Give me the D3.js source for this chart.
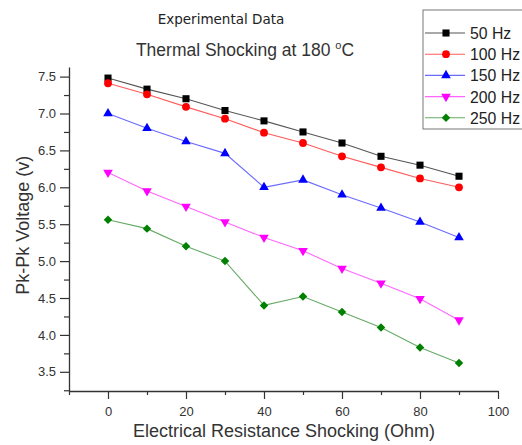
<!DOCTYPE html>
<html>
<head>
<meta charset="utf-8">
<script src="https://cdnjs.cloudflare.com/ajax/libs/d3/7.8.5/d3.min.js"></script>
<style>
  html, body { margin: 0; padding: 0; background: #fff; }
  svg { display: block; }
</style>
</head>
<body>
<script>
// x values (Ohm)
const resistance = [0, 10, 20, 30, 40, 50, 60, 70, 80, 90];

// Pk-Pk voltage per frequency
const hz50  = [7.48, 7.33, 7.20, 7.04, 6.90, 6.75, 6.60, 6.42, 6.30, 6.15];
const hz100 = [7.41, 7.26, 7.09, 6.93, 6.74, 6.60, 6.42, 6.27, 6.12, 6.00];
const hz150 = [7.00, 6.80, 6.62, 6.46, 6.00, 6.10, 5.90, 5.72, 5.53, 5.32];
const hz200 = [6.20, 5.95, 5.74, 5.53, 5.32, 5.14, 4.90, 4.70, 4.49, 4.20];
const hz250 = [5.56, 5.44, 5.20, 5.00, 4.40, 4.52, 4.31, 4.10, 3.83, 3.62];

const seriesNames = ['50 Hz', '100 Hz', '150 Hz', '200 Hz', '250 Hz'];
const xTicks = [0, 20, 40, 60, 80, 100];
const xMinorTicks = [-10, 10, 30, 50, 70, 90];
const yTicks = [3.5, 4.0, 4.5, 5.0, 5.5, 6.0, 6.5, 7.0, 7.5];
const yMinorTicks = [3.25, 3.75, 4.25, 4.75, 5.25, 5.75, 6.25, 6.75, 7.25];

const series = [
  { name: seriesNames[0], values: hz50,  line: '#555555', fill: '#000000', shape: d3.symbolSquare,   size: 50, rot: 0 },
  { name: seriesNames[1], values: hz100, line: '#ff5a5a', fill: '#ff0000', shape: d3.symbolCircle,   size: 48, rot: 0 },
  { name: seriesNames[2], values: hz150, line: '#6a6aff', fill: '#0000ff', shape: d3.symbolTriangle, size: 40, rot: 0 },
  { name: seriesNames[3], values: hz200, line: '#ff66ff', fill: '#ff00ff', shape: d3.symbolTriangle, size: 40, rot: 180 },
  { name: seriesNames[4], values: hz250, line: '#66aa66', fill: '#008000', shape: d3.symbolSquare,   size: 36, rot: 45 }
];

const width = 522, height = 445;
const margin = { top: 67, right: 24, bottom: 54, left: 69 };
const innerWidth = width - margin.left - margin.right;
const innerHeight = height - margin.top - margin.bottom;
const font = '"Liberation Sans", Arial, sans-serif';

const svg = d3.select('body').append('svg')
  .attr('width', width)
  .attr('height', height);

const g = svg.append('g')
  .attr('transform', `translate(${margin.left},${margin.top})`);

const xScale = d3.scaleLinear()
  .domain([-10, 100])
  .range([0, innerWidth]);

const yScale = d3.scaleLinear()
  .domain([3.24, 7.63])
  .range([innerHeight, 0]);

// titles
svg.append('text')
  .attr('x', 221).attr('y', 24)
  .attr('text-anchor', 'middle')
  .attr('font-family', '"DejaVu Sans", sans-serif')
  .attr('font-size', 13.5)
  .attr('fill', '#222')
  .text('Experimental Data');

const sub = svg.append('text')
  .attr('x', 245).attr('y', 56)
  .attr('text-anchor', 'middle')
  .attr('font-family', font)
  .attr('font-size', 17.5)
  .attr('fill', '#333')
  .text('Thermal Shocking at 180 ');
sub.append('tspan').attr('dy', -7).attr('font-size', 11).text('o');
sub.append('tspan').attr('dy', 7).text('C');

// y axis
const yAxis = g.append('g')
  .call(d3.axisLeft(yScale).tickValues(yTicks).tickFormat(d3.format('.1f')).tickSize(9).tickSizeOuter(0));
const yMinor = g.append('g')
  .call(d3.axisLeft(yScale).tickValues(yMinorTicks).tickSize(5).tickSizeOuter(0));
yMinor.select('.domain').remove();
yMinor.selectAll('.tick text').remove();

// x axis
const xAxis = g.append('g')
  .attr('transform', `translate(0,${innerHeight})`)
  .call(d3.axisBottom(xScale).tickValues(xTicks).tickSize(8).tickSizeOuter(0));
const xMinor = g.append('g')
  .attr('transform', `translate(0,${innerHeight})`)
  .call(d3.axisBottom(xScale).tickValues(xMinorTicks).tickSize(4).tickSizeOuter(0));
xMinor.select('.domain').remove();
xMinor.selectAll('.tick text').remove();

g.selectAll('.domain').attr('stroke', '#333').attr('stroke-width', 1.3);
g.selectAll('.tick line').attr('stroke', '#333').attr('stroke-width', 1.2);
g.selectAll('.tick text')
  .attr('font-family', font)
  .attr('font-size', 13)
  .attr('fill', '#333');
yAxis.selectAll('.tick text').attr('dx', -1);
xAxis.selectAll('.tick text').attr('dy', '1.05em');

// axis labels
svg.append('text')
  .attr('transform', `translate(29,${margin.top + yScale(5.5) + 1}) rotate(-90)`)
  .attr('text-anchor', 'middle')
  .attr('font-family', font)
  .attr('font-size', 18)
  .attr('fill', '#333')
  .text('Pk-Pk Voltage (v)');

svg.append('text')
  .attr('x', 284).attr('y', 437)
  .attr('text-anchor', 'middle')
  .attr('font-family', font)
  .attr('font-size', 18)
  .attr('fill', '#333')
  .text('Electrical Resistance Shocking (Ohm)');

// lines and markers
const line = d3.line()
  .x((d, i) => xScale(resistance[i]))
  .y(d => yScale(d));

series.forEach(s => {
  g.append('path')
    .datum(s.values)
    .attr('fill', 'none')
    .attr('stroke', s.line)
    .attr('stroke-width', 1.1)
    .attr('d', line);

  g.selectAll(null)
    .data(s.values)
    .enter()
    .append('path')
    .attr('d', d3.symbol().type(s.shape).size(s.size))
    .attr('transform', (d, i) => `translate(${xScale(resistance[i])},${yScale(d)}) rotate(${s.rot})`)
    .attr('fill', s.fill);
});

// legend (box runs past the right edge, as in the original)
const legend = svg.append('g').attr('transform', 'translate(423,10)');
legend.append('rect')
  .attr('x', 0).attr('y', 0)
  .attr('width', 120).attr('height', 119)
  .attr('fill', '#fff')
  .attr('stroke', '#777')
  .attr('stroke-width', 1);

series.forEach((s, i) => {
  const y = 23 + i * 21.2;
  legend.append('line')
    .attr('x1', 2).attr('x2', 42)
    .attr('y1', y).attr('y2', y)
    .attr('stroke', s.line)
    .attr('stroke-width', 1.1);
  legend.append('path')
    .attr('d', d3.symbol().type(s.shape).size(s.size))
    .attr('transform', `translate(23,${y}) rotate(${s.rot})`)
    .attr('fill', s.fill);
  legend.append('text')
    .attr('x', 47).attr('y', y + 6)
    .attr('font-family', font)
    .attr('font-size', 15.8)
    .attr('fill', '#222')
    .text(s.name);
});
</script>
</body>
</html>
